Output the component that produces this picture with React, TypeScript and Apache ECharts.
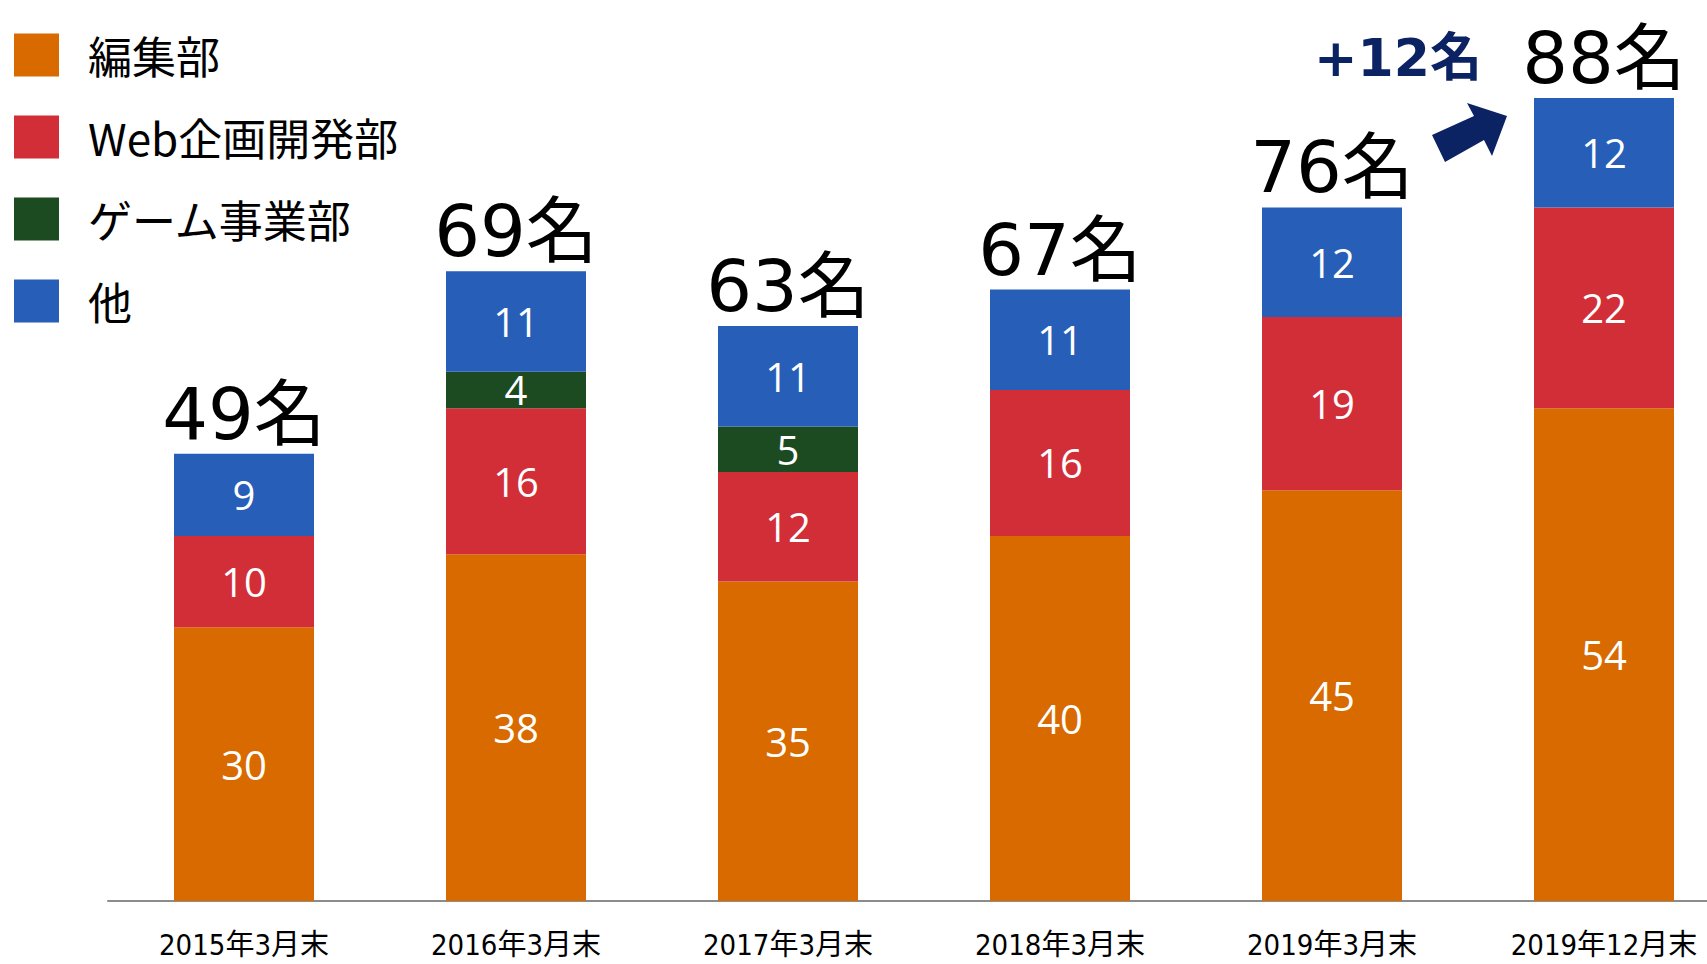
import React, { useEffect, useRef } from "react";
import * as echarts from "echarts";

const categories = ["2015年3月末", "2016年3月末", "2017年3月末", "2018年3月末", "2019年3月末", "2019年12月末"];
const editorial = [30, 38, 35, 40, 45, 54];
const webPlanning = [10, 16, 12, 16, 19, 22];
const gameBusiness = [0, 4, 5, 0, 0, 0];
const others = [9, 11, 11, 11, 12, 12];
const totals = [49, 69, 63, 67, 76, 88];
const increaseLabel = "+12名";

const COLORS = {
  editorial: "#D86A00",
  web: "#D22E37",
  game: "#1C4A21",
  other: "#275EB7",
};

export default function App() {
  const ref = useRef<HTMLDivElement>(null);

  useEffect(() => {
    if (!ref.current) return;
    const chart = echarts.init(ref.current, null, { renderer: "svg" });

    const segLabel = {
      show: true,
      position: "inside",
      color: "#ffffff",
      fontSize: 40,
      fontFamily: "Open Sans, Noto Sans, sans-serif",
      formatter: (p: any) => (p.value ? String(p.value) : ""),
    };

    const mk = (name: string, data: number[], color: string) => ({
      name,
      type: "bar",
      stack: "all",
      data,
      barWidth: 140,
      itemStyle: { color },
      label: segLabel,
    });

    chart.setOption({
      animation: false,
      backgroundColor: "#ffffff",
      grid: {
        left: 108,
        top: 34,
        width: 1632,
        height: 867,
        outerBoundsMode: "none",
        containLabel: false,
      },
      legend: {
        orient: "vertical",
        left: 14,
        top: 33,
        padding: 0,
        icon: "rect",
        itemWidth: 45,
        itemHeight: 43,
        itemGap: 38,
        data: ["編集部", "Web企画開発部", "ゲーム事業部", "他"],
        textStyle: {
          fontSize: 44,
          color: "#000000",
          fontFamily: "Noto Sans CJK JP, sans-serif",
          padding: [0, 0, 0, 24],
        },
      },
      xAxis: {
        type: "category",
        data: categories,
        axisTick: { show: false },
        axisLine: { lineStyle: { color: "#8c8c8c", width: 2 } },
        axisLabel: {
          color: "#000000",
          fontSize: 29,
          lineHeight: 29,
          margin: 29,
          fontFamily: "'DejaVu Sans Condensed', 'Noto Sans CJK JP', sans-serif",
        },
      },
      yAxis: {
        type: "value",
        min: 0,
        max: 95,
        show: false,
        splitLine: { show: false },
      },
      series: [
        mk("編集部", editorial, COLORS.editorial),
        mk("Web企画開発部", webPlanning, COLORS.web),
        mk("ゲーム事業部", gameBusiness, COLORS.game),
        mk("他", others, COLORS.other),
        {
          name: "total",
          type: "bar",
          data: totals,
          barWidth: 140,
          barGap: "-100%",
          silent: true,
          itemStyle: { color: "rgba(0,0,0,0)" },
          label: {
            show: true,
            position: "top",
            distance: 4,
            color: "#000000",
            fontSize: 72,
            fontFamily: "'DejaVu Sans', 'Noto Sans CJK JP', sans-serif",
            formatter: (p: any) => p.value + "名",
          },
        },
      ],
      graphic: [
        {
          type: "text",
          x: 1398,
          y: 58,
          style: {
            text: increaseLabel,
            fill: "#0B2362",
            fontSize: 52,
            fontWeight: "bold",
            fontFamily: "'DejaVu Sans', 'Noto Sans CJK JP', sans-serif",
            textAlign: "center",
            textVerticalAlign: "middle",
          },
        },
        {
          type: "polygon",
          shape: {
            points: [
              [1432, 135],
              [1474, 116],
              [1467, 103],
              [1507, 116],
              [1492, 156],
              [1484, 140],
              [1445, 162],
            ],
          },
          style: { fill: "#0B2362" },
        },
      ],
    });

    return () => chart.dispose();
  }, []);

  return (
    <div
      ref={ref}
      style={{ position: "fixed", left: 0, top: 0, width: 1707, height: 964 }}
    />
  );
}
